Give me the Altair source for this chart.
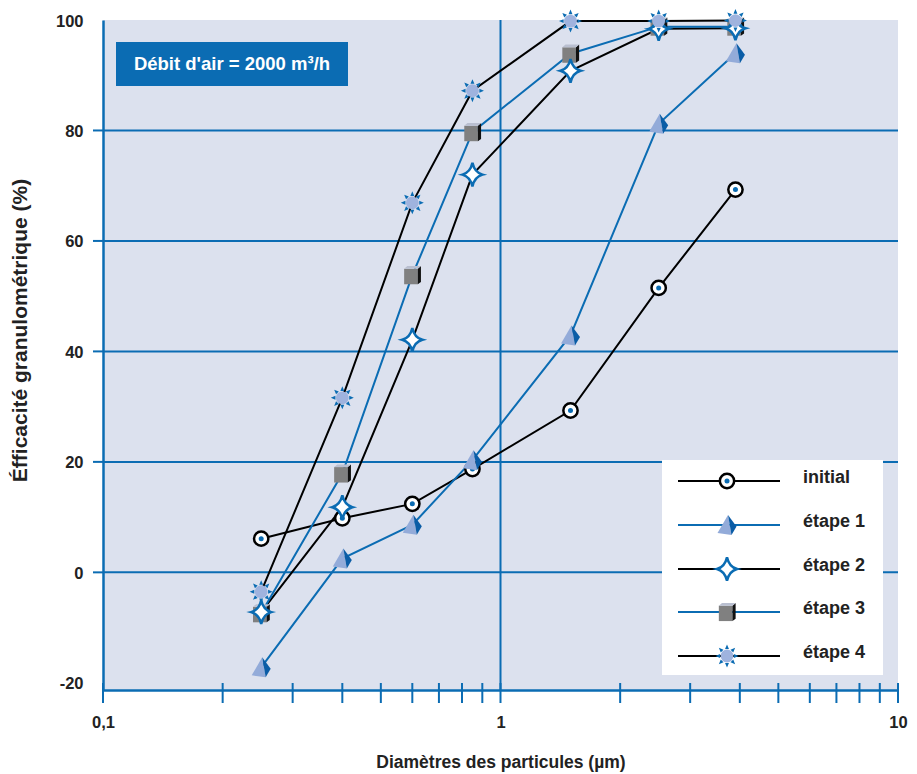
import math
import altair as alt
import pandas as pd

# ---------------- data ----------------
diametres = [0.25, 0.4, 0.6, 0.85, 1.5, 2.5, 3.9]
initial = [6.1, 9.8, 12.4, 18.7, 29.3, 51.5, 69.3]
etape_1 = [-17.2, 2.5, 8.6, 20.3, 42.9, 81.2, 94.0]
etape_2 = [-7.2, 11.8, 42.1, 72.0, 90.8, 98.4, 98.5]
etape_3 = [-7.4, 17.9, 53.8, 79.7, 93.9, 98.8, 98.8]
etape_4 = [-3.5, 31.6, 66.9, 87.2, 99.8, 99.8, 99.9]
series = ["initial", "étape 1", "étape 2", "étape 3", "étape 4"]
values = [initial, etape_1, etape_2, etape_3, etape_4]

x_tick_values = [0.1, 0.2, 0.3, 0.4, 0.5, 0.6, 0.7, 0.8, 0.9,
                 1, 2, 3, 4, 5, 6, 7, 8, 9, 10]
x_label_values = [0.1, 1, 10]
y_label_values = [-20, 0, 20, 40, 60, 80, 100]
y_grid_values = [0, 20, 40, 60, 80]
x_grid_values = [1]
box_text = ["Débit d'air = 2000 m³/h"]
x_title = "Diamètres des particules (µm)"
y_title = "Éfficacité granulométrique (%)"

# ---------------- style ----------------
BLUE = "#0b6cb3"
BG = "#dce1ee"
LIGHT = "#93abd9"
INK = "#222222"
FONT = "Liberation Sans"
W, H = 795, 670
line_colors = ["#000000", BLUE, "#000000", BLUE, "#000000"]

rows = []
for name, vals in zip(series, values):
    for d, e in zip(diametres, vals):
        rows.append({"serie": name, "d": d, "e": e})
df = pd.DataFrame(rows)

xs = alt.Scale(type="log", domain=[0.1, 10], nice=False)
ys = alt.Scale(domain=[-21.3, 100], nice=False, zero=False)

xaxis = alt.Axis(values=x_label_values, format="~g",
                 labelExpr="replace(datum.label, '.', ',')",
                 ticks=False, tickSize=0, grid=False, labelFlush=False,
                 domainColor=BLUE, domainWidth=2.5,
                 labelFont=FONT, labelFontSize=16.5, labelFontWeight="bold",
                 labelColor=INK, labelPadding=24,
                 title=x_title, titleFont=FONT, titleFontSize=17.5,
                 titleFontWeight="bold", titleColor=INK,
                 titleY=72, titleBaseline="middle")
yaxis = alt.Axis(values=y_label_values,
                 labelExpr="replace(datum.label, '\u2212', '-')",
                 ticks=False, tickSize=0, grid=False,
                 domainColor=BLUE, domainWidth=2.5,
                 labelFont=FONT, labelFontSize=16.5, labelFontWeight="bold",
                 labelColor=INK, labelPadding=20, labelOffset=1,
                 title=y_title, titleFont=FONT, titleFontSize=21,
                 titleFontWeight="bold", titleColor=INK,
                 titleAngle=270, titleX=-83, titleY=310,
                 titleAlign="center", titleBaseline="middle")

X = alt.X("d:Q", scale=xs, axis=xaxis)
Y = alt.Y("e:Q", scale=ys, axis=yaxis)

# ---------------- marker shapes ----------------
def sun_rays():
    parts = []
    for k in range(8):
        a = k * math.pi / 4
        c, s = math.cos(a), math.sin(a)
        r0, hw = 0.6, 0.17
        b1 = (c * r0 - s * hw, s * r0 + c * hw)
        b2 = (c * r0 + s * hw, s * r0 - c * hw)
        parts.append(f"M{c:.3f},{s:.3f}L{b1[0]:.3f},{b1[1]:.3f}L{b2[0]:.3f},{b2[1]:.3f}Z")
    return "".join(parts)

STAR4 = ("M0,-1 Q0.18,-0.18 0.85,0 Q0.18,0.18 0,1 "
         "Q-0.18,0.18 -0.85,0 Q-0.18,-0.18 0,-1 Z")
PYR_LIGHT = "M0.1,-1 L-0.95,0.8 L0.45,1 Z"
PYR_DARK = "M0.1,-1 L0.45,1 L0.95,0.15 Z"
CUBE_FRONT = "M-0.9,-0.7 L0.6,-0.7 L0.6,1 L-0.9,1 Z"
CUBE_SIDE = "M0.6,-0.7 L0.95,-1 L0.95,0.75 L0.6,1 Z"
CUBE_TOP = "M-0.9,-0.7 L-0.55,-1 L0.95,-1 L0.6,-0.7 Z"

MARKERS = {
    "initial": [
        dict(shape="circle", size=205, filled=True, fill="white",
             stroke="#000000", strokeWidth=2.5, opacity=1),
        dict(shape="circle", size=25, filled=True, fill=BLUE,
             strokeWidth=0, opacity=1),
    ],
    "étape 1": [
        dict(shape=PYR_LIGHT, size=400, filled=True, fill=LIGHT, strokeWidth=0, opacity=1),
        dict(shape=PYR_DARK, size=400, filled=True, fill="#0a5ca6", strokeWidth=0, opacity=1),
    ],
    "étape 2": [
        dict(shape=STAR4, size=560, filled=True, fill="white",
             stroke=BLUE, strokeWidth=2.5, opacity=1),
    ],
    "étape 3": [
        dict(shape=CUBE_FRONT, size=330, filled=True, fill="#808080", strokeWidth=0, opacity=1),
        dict(shape=CUBE_SIDE, size=330, filled=True, fill="#111111", strokeWidth=0, opacity=1),
        dict(shape=CUBE_TOP, size=330, filled=True, fill="#b9bfd0", strokeWidth=0, opacity=1),
    ],
    "étape 4": [
        dict(shape="circle", size=165, filled=True, fill="#9fb3de", strokeWidth=0, opacity=1),
        dict(shape=sun_rays(), size=530, filled=True, fill=BLUE, strokeWidth=0, opacity=1),
    ],
}
marker_order = ["initial", "étape 1", "étape 3", "étape 2", "étape 4"]

layers = []

# gridlines
layers.append(alt.Chart(pd.DataFrame({"e": y_grid_values}))
              .mark_rule(color=BLUE, strokeWidth=2).encode(y=Y))
layers.append(alt.Chart(pd.DataFrame({"d": x_grid_values}))
              .mark_rule(color=BLUE, strokeWidth=2).encode(x=X))
# ticks
layers.append(alt.Chart(pd.DataFrame({"d": x_tick_values}))
              .mark_rule(color=BLUE, strokeWidth=2)
              .encode(x=X, y=alt.value(H - 7), y2=alt.value(H + 13)))
layers.append(alt.Chart(pd.DataFrame({"e": y_grid_values}))
              .mark_rule(color=BLUE, strokeWidth=2)
              .encode(y=Y, x=alt.value(-10), x2=alt.value(0)))

# title box
tb = alt.Chart(pd.DataFrame({"t": box_text}))
layers.append(tb.mark_rect(color=BLUE, opacity=1).encode(
    x=alt.value(13), x2=alt.value(245), y=alt.value(22), y2=alt.value(66)))
layers.append(tb.mark_text(color="white", font=FONT, fontSize=18.5, fontWeight="bold",
                           align="center", baseline="middle")
              .encode(x=alt.value(129), y=alt.value(44), text="t:N"))

# lines
base = alt.Chart(df)
for name, col in zip(series, line_colors):
    layers.append(base.transform_filter(alt.datum.serie == name)
                  .mark_line(color=col, strokeWidth=2).encode(x=X, y=Y, order="d:Q"))
# markers
for name in marker_order:
    src = base.transform_filter(alt.datum.serie == name)
    for props in MARKERS[name]:
        layers.append(src.mark_point(**props).encode(x=X, y=Y))

# legend
leg = alt.Chart(pd.DataFrame({"t": [""]}))
layers.append(leg.mark_rect(color="white", opacity=1).encode(
    x=alt.value(559), x2=alt.value(780), y=alt.value(440), y2=alt.value(655)))
row_y = [461, 505, 549, 592, 636]
for name, col, ry in zip(series, line_colors, row_y):
    layers.append(leg.mark_rule(color=col, strokeWidth=2).encode(
        x=alt.value(575), x2=alt.value(677), y=alt.value(ry)))
    for props in MARKERS[name]:
        layers.append(leg.mark_point(**props).encode(x=alt.value(624), y=alt.value(ry)))
    layers.append(alt.Chart(pd.DataFrame({"t": [name]})).mark_text(
        color=INK, font=FONT, fontSize=18, fontWeight="bold",
        align="left", baseline="middle").encode(
        x=alt.value(700), y=alt.value(ry - 3), text="t:N"))

chart = alt.layer(*layers).properties(
    width=W, height=H,
    padding={"left": 95, "top": 12, "right": 10, "bottom": 84},
    autosize=alt.AutoSizeParams(type="none"),
    background="white",
).configure_view(fill=BG, strokeWidth=0)

chart.save("out.html", embed_options={"renderer": "svg", "actions": False})
